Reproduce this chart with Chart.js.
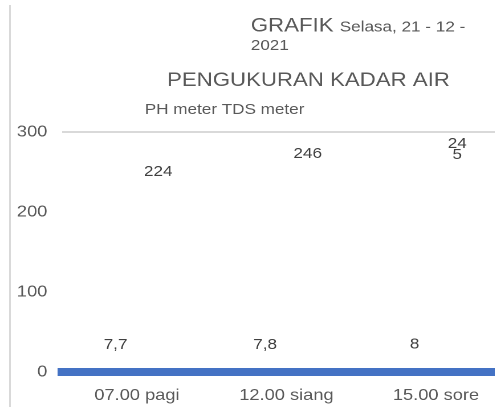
<!DOCTYPE html>
<html>
<head>
<meta charset="utf-8">
<script src="https://cdn.jsdelivr.net/npm/chart.js@4.4.1/dist/chart.umd.min.js"></script>
<style>
  html, body { margin: 0; padding: 0; background: #fff; width: 495px; height: 407px; overflow: hidden; }
  /* the source picture is stretched sideways a bit, so the whole chart is too */
  #wrap { position: absolute; left: 0; top: 0; width: 448px; height: 407px; transform: scaleX(1.14); transform-origin: 0 0; }
  #frame { position: absolute; left: 9px; top: 5px; width: 2px; height: 402px; background: #d9d9d9; }
</style>
</head>
<body>
<div id="wrap"><canvas id="chart"></canvas></div>
<div id="frame"></div>
<script>
const categories = ["07.00 pagi", "12.00 siang", "15.00 sore"];
const phValues = [7.7, 7.8, 8];
const tdsValues = [224, 246, 245];
const tdsLabelText = ["224", "246", "24\n5"]; // last label wraps in the original
const yMax = 300;
const yStep = 100;

const FONT = '"Liberation Sans", Arial, sans-serif';

// title lines + series names, drawn like the Excel text boxes
const headerText = {
  id: "headerText",
  afterDraw(chart) {
    const ctx = chart.ctx;
    ctx.save();
    ctx.fillStyle = "#595959";
    ctx.textAlign = "left";
    ctx.textBaseline = "alphabetic";
    ctx.font = "19.5px " + FONT;
    ctx.fillText("GRAFIK", 220, 31.7);
    const w = ctx.measureText("GRAFIK ").width;
    ctx.font = "15px " + FONT;
    ctx.fillText("Selasa, 21 - 12 -", 220 + w, 31.7);
    ctx.fillText("2021", 220, 50);
    ctx.font = "19.5px " + FONT;
    ctx.fillText("PENGUKURAN KADAR AIR", 146.5, 86);
    ctx.font = "15px " + FONT;
    const names = chart.data.datasets.map((ds) => ds.label).join(" ");
    ctx.fillText(names, 127, 114);
    ctx.restore();
  },
};

// value labels above each bar
const barLabels = {
  id: "barLabels",
  afterDatasetsDraw(chart) {
    const ctx = chart.ctx;
    ctx.save();
    ctx.font = "15px " + FONT;
    ctx.fillStyle = "#404040";
    ctx.textAlign = "center";
    ctx.textBaseline = "alphabetic";
    chart.data.datasets.forEach((ds, i) => {
      chart.getDatasetMeta(i).data.forEach((bar, j) => {
        const lines = ds.labelText[j].split("\n");
        lines.forEach((line, k) => {
          ctx.fillText(line, bar.x, bar.y - 17 - (lines.length - 1 - k) * 11);
        });
      });
    });
    ctx.restore();
  },
};

new Chart(document.getElementById("chart"), {
  type: "bar",
  data: {
    labels: categories,
    datasets: [
      {
        label: "PH meter",
        data: phValues,
        labelText: phValues.map((v) => String(v).replace(".", ",")),
        backgroundColor: "rgba(255,255,255,0)",
        categoryPercentage: 0.57,
        barPercentage: 1,
      },
      {
        label: "TDS meter",
        data: tdsValues,
        labelText: tdsLabelText,
        backgroundColor: "rgba(255,255,255,0)",
        categoryPercentage: 0.57,
        barPercentage: 1,
      },
    ],
  },
  options: {
    responsive: true,
    maintainAspectRatio: false,
    devicePixelRatio: 2,
    animation: false,
    layout: { padding: { top: 132, left: 0, right: 0, bottom: 0 } },
    plugins: {
      legend: { display: false },
      title: { display: false },
      tooltip: { enabled: false },
    },
    scales: {
      x: {
        grid: { display: false, drawTicks: false },
        border: { display: true, color: "#4472C4", width: 8 },
        ticks: { color: "#595959", font: { family: FONT, size: 16 }, padding: 14 },
        afterFit: (scale) => { scale.height = 35; },
      },
      y: {
        min: 0,
        max: yMax,
        ticks: { stepSize: yStep, color: "#595959", font: { family: FONT, size: 16 }, padding: 13 },
        grid: {
          drawTicks: false,
          lineWidth: 2,
          color: (c) => (c.tick && c.tick.value === yMax ? "#d9d9d9" : "rgba(0,0,0,0)"),
        },
        border: { display: false },
        afterFit: (scale) => { scale.width = 54.5; },
      },
    },
  },
  plugins: [headerText, barLabels],
});
</script>
</body>
</html>
